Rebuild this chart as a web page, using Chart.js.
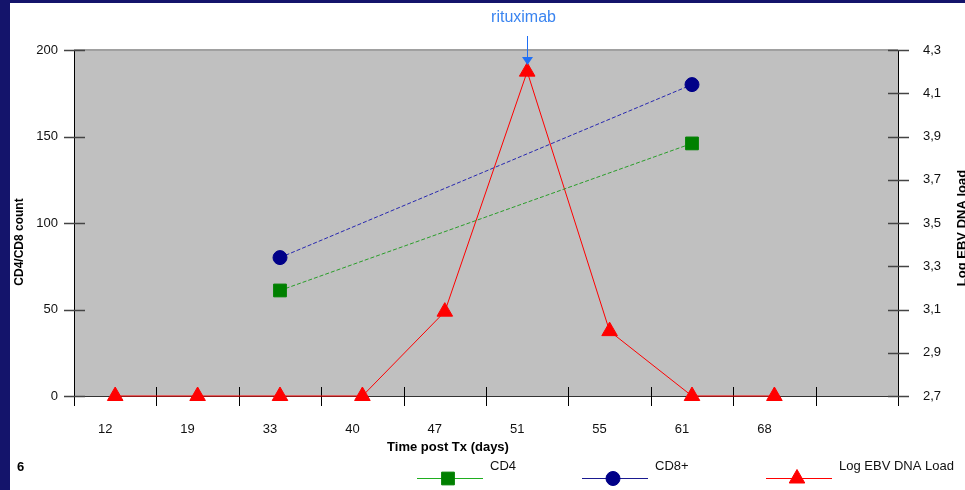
<!DOCTYPE html>
<html>
<head>
<meta charset="utf-8">
<script src="https://cdn.jsdelivr.net/npm/chart.js@4.4.0/dist/chart.umd.min.js"></script>
<style>
  html, body { margin: 0; padding: 0; background: #fff; overflow: hidden; }
  #wrap { width: 965px; height: 490px; }
</style>
</head>
<body>
<div id="wrap"><canvas id="grafico"></canvas></div>
<script>
const dias = ["12", "19", "33", "40", "47", "51", "55", "61", "68", ""];
const cd4 = [null, null, 61, null, null, null, null, 146, null, null];
const cd8 = [null, null, 80, null, null, null, null, 180, null, null];
const logEbv = [2.7, 2.7, 2.7, 2.7, 3.09, 4.2, 3.0, 2.7, 2.7, null];
const ticksContagem = [0, 50, 100, 150, 200];
const ticksEbv = [2.7, 2.9, 3.1, 3.3, 3.5, 3.7, 3.9, 4.1, 4.3];
const diaRituximab = "51";

const fonte = "'Liberation Sans', Arial, sans-serif";
Chart.defaults.font.family = fonte;
Chart.defaults.color = "#111";

// cores da legenda (linha cheia)
const corLegenda = ["#1fae1f", "#1a1a90", "#ff0000"];
const legendaX = [417, 582, 766];

const desenhoSlide = {
  id: "desenhoSlide",
  beforeDraw(chart) {
    const { ctx, chartArea: a } = chart;
    ctx.save();
    ctx.fillStyle = "#fff";
    ctx.fillRect(0, 0, chart.width, chart.height);
    ctx.fillStyle = "#14146b";
    ctx.fillRect(0, 0, 10, chart.height);
    ctx.fillRect(0, 0, chart.width, 3);
    ctx.fillStyle = "#c0c0c0";
    ctx.fillRect(a.left, a.top, a.right - a.left, a.bottom - a.top);
    ctx.restore();
  },
  beforeDatasetsDraw(chart) {
    const { ctx, chartArea: a, scales } = chart;
    ctx.save();
    // borda de cima
    ctx.strokeStyle = "#a0a0a0";
    ctx.lineWidth = 2;
    ctx.beginPath();
    ctx.moveTo(a.left, a.top);
    ctx.lineTo(a.right, a.top);
    ctx.stroke();
    // eixos
    ctx.lineWidth = 1;
    ctx.strokeStyle = "#000";
    ctx.beginPath();
    ctx.moveTo(a.left + 0.5, a.top);
    ctx.lineTo(a.left + 0.5, a.bottom);
    ctx.moveTo(a.right + 0.5, a.top);
    ctx.lineTo(a.right + 0.5, a.bottom + 10);
    ctx.stroke();
    ctx.strokeStyle = "#333";
    ctx.beginPath();
    ctx.moveTo(a.left, a.bottom + 0.5);
    ctx.lineTo(a.right, a.bottom + 0.5);
    ctx.stroke();
    // marcas do eixo x, entre as categorias
    const x = scales.x;
    const passo = x.getPixelForValue(1) - x.getPixelForValue(0);
    ctx.strokeStyle = "#000";
    ctx.beginPath();
    for (let i = 0; i <= dias.length; i++) {
      const px = Math.round(x.getPixelForValue(0) - passo / 2 + i * passo) + 0.5;
      ctx.moveTo(px, a.bottom - 9);
      ctx.lineTo(px, a.bottom + 10);
    }
    ctx.stroke();
    // marcas dos eixos y
    ctx.strokeStyle = "#444";
    ctx.lineWidth = 1.5;
    ctx.beginPath();
    ticksContagem.forEach((v) => {
      const py = Math.round(scales.y.getPixelForValue(v)) + 0.5;
      ctx.moveTo(a.left - 10, py);
      ctx.lineTo(a.left + 11, py);
    });
    ticksEbv.forEach((v) => {
      const py = Math.round(scales.y2.getPixelForValue(v)) + 0.5;
      ctx.moveTo(a.right - 10, py);
      ctx.lineTo(a.right + 11, py);
    });
    ctx.stroke();
    ctx.restore();
  },
  afterDraw(chart) {
    const { ctx, chartArea: a, scales } = chart;
    ctx.save();
    ctx.fillStyle = "#000";
    ctx.textAlign = "center";
    ctx.textBaseline = "middle";
    // titulo do eixo x
    ctx.font = "bold 13px " + fonte;
    ctx.fillText("Time post Tx (days)", 448, 447);
    // titulos dos eixos y
    ctx.save();
    ctx.translate(20, 242);
    ctx.rotate(-Math.PI / 2);
    ctx.font = "bold 12px " + fonte;
    ctx.fillText("CD4/CD8 count", 0, 0);
    ctx.restore();
    ctx.save();
    ctx.translate(962, 228);
    ctx.rotate(-Math.PI / 2);
    ctx.font = "bold 13px " + fonte;
    ctx.fillText("Log EBV DNA load", 0, 0);
    ctx.restore();
    // numero do slide
    ctx.font = "bold 13px " + fonte;
    ctx.textAlign = "left";
    ctx.fillText("6", 17, 467);

    // seta do rituximab
    const idx = dias.indexOf(diaRituximab);
    const rx = Math.round(scales.x.getPixelForValue(idx)) + 0.5;
    ctx.fillStyle = "#3a84f0";
    ctx.font = "16px " + fonte;
    ctx.textAlign = "center";
    ctx.fillText("rituximab", rx - 4, 18);
    ctx.strokeStyle = "#1f6ff5";
    ctx.fillStyle = "#1f6ff5";
    ctx.lineWidth = 1;
    ctx.beginPath();
    ctx.moveTo(rx, 36);
    ctx.lineTo(rx, 58);
    ctx.stroke();
    ctx.beginPath();
    ctx.moveTo(rx - 5.5, 57);
    ctx.lineTo(rx + 5.5, 57);
    ctx.lineTo(rx, 65);
    ctx.closePath();
    ctx.fill();

    // legenda
    ctx.font = "13px " + fonte;
    ctx.textAlign = "left";
    chart.data.datasets.forEach((ds, i) => {
      const x0 = legendaX[i];
      const y0 = 478.5;
      ctx.strokeStyle = corLegenda[i];
      ctx.lineWidth = 1;
      ctx.setLineDash([]);
      ctx.beginPath();
      ctx.moveTo(x0, y0);
      ctx.lineTo(x0 + 66, y0);
      ctx.stroke();
      ctx.fillStyle = ds.pointBackgroundColor;
      ctx.strokeStyle = ds.pointBorderColor;
      Chart.helpers.drawPoint(ctx, {
        pointStyle: ds.pointStyle,
        radius: ds.pointRadius,
        rotation: 0,
        borderWidth: 1
      }, x0 + 31, y0);
      ctx.fillStyle = "#111";
      ctx.fillText(ds.label, x0 + 73, 466);
    });
    ctx.restore();
  }
};

const grafico = new Chart(document.getElementById("grafico"), {
  type: "line",
  data: {
    labels: dias,
    datasets: [
      {
        label: "CD4",
        data: cd4,
        yAxisID: "y",
        borderColor: "#2a9e2a",
        borderWidth: 1,
        borderDash: [4, 2],
        pointStyle: "rect",
        pointRadius: 9,
        pointBackgroundColor: "#008000",
        pointBorderColor: "#008000",
        spanGaps: true,
        clip: false
      },
      {
        label: "CD8+",
        data: cd8,
        yAxisID: "y",
        borderColor: "#2828b0",
        borderWidth: 1,
        borderDash: [4, 2],
        pointStyle: "circle",
        pointRadius: 7,
        pointBackgroundColor: "#000088",
        pointBorderColor: "#000088",
        spanGaps: true,
        clip: false
      },
      {
        label: "Log EBV DNA Load",
        data: logEbv,
        yAxisID: "y2",
        borderColor: "#ff0000",
        borderWidth: 1,
        pointStyle: "triangle",
        pointRadius: 9,
        pointBackgroundColor: "#ff0000",
        pointBorderColor: "#ff0000",
        clip: false
      }
    ]
  },
  options: {
    responsive: true,
    maintainAspectRatio: false,
    animation: false,
    layout: { padding: { top: 50, left: 0, right: 0, bottom: 0 } },
    plugins: {
      legend: { display: false },
      tooltip: { enabled: false }
    },
    elements: { line: { tension: 0 } },
    scales: {
      x: {
        type: "category",
        offset: true,
        grid: { display: false, drawTicks: false },
        border: { display: false },
        ticks: {
          font: { size: 13 },
          color: "#111",
          padding: 26,
          labelOffset: -10,
          maxRotation: 0,
          autoSkip: false
        },
        afterFit(scale) { scale.height = 94; }
      },
      y: {
        position: "left",
        min: 0,
        max: 200,
        grid: { display: false, drawTicks: false },
        border: { display: false },
        ticks: { font: { size: 13 }, color: "#111", padding: 16 },
        afterBuildTicks(scale) { scale.ticks = ticksContagem.map((v) => ({ value: v })); },
        afterFit(scale) { scale.width = 74; }
      },
      y2: {
        position: "right",
        min: 2.7,
        max: 4.3,
        grid: { display: false, drawTicks: false },
        border: { display: false },
        ticks: {
          font: { size: 13 },
          color: "#111",
          padding: 25,
          callback: (v) => Number(v).toFixed(1).replace(".", ",")
        },
        afterBuildTicks(scale) { scale.ticks = ticksEbv.map((v) => ({ value: v })); },
        afterFit(scale) { scale.width = 67; }
      }
    }
  },
  plugins: [desenhoSlide]
});
</script>
</body>
</html>
